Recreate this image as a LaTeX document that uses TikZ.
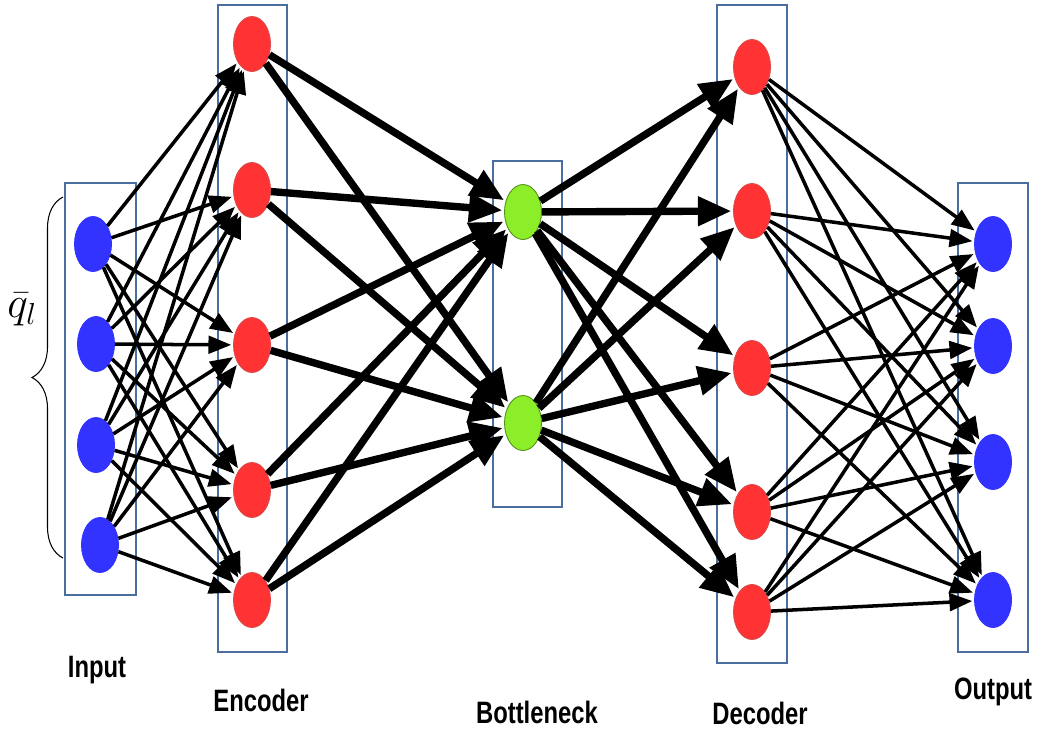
\documentclass[tikz,border=0pt]{standalone}
\usepackage{fontspec}
\newfontfamily\labfont[FakeStretch=0.77]{Liberation Sans}
\usetikzlibrary{arrows.meta,decorations.pathreplacing,shapes.geometric}
\definecolor{nblue}{RGB}{51,51,255}
\definecolor{nred}{RGB}{255,51,51}
\definecolor{ngreen}{RGB}{140,238,40}
\definecolor{boxblue}{RGB}{74,110,160}
\begin{document}
\begin{tikzpicture}[x=0.02cm,y=-0.02cm,
  neuron/.style={ellipse, minimum width=0.74cm, minimum height=1.1cm, inner sep=0pt, line width=0.5pt},
  inneuron/.style={neuron, fill=nblue, draw=nblue},
  encneuron/.style={neuron, fill=nred, draw=nred!70!gray},
  botneuron/.style={neuron, fill=ngreen, draw=ngreen!60!black},
  layerbox/.style={draw=boxblue, line width=1.6pt},
  thinarrow/.style={-{Triangle[length=13pt,width=10pt]}, line width=2pt, shorten >=1pt},
  thickarrow/.style={-{Triangle[length=19pt,width=16pt]}, line width=4.2pt, shorten >=1pt},
  lab/.style={font=\labfont\bfseries\fontsize{17.6pt}{20pt}\selectfont}
]
\useasboundingbox (0,0) rectangle (1040,731);
% layer boxes
\draw[layerbox] (65,183) rectangle (136,595);
\draw[layerbox] (218,5) rectangle (287,652);
\draw[layerbox] (493,161) rectangle (562,507);
\draw[layerbox] (717,5) rectangle (787,663);
\draw[layerbox] (958,183) rectangle (1028,652);
% input
\node[inneuron] (I1) at (93,244) {};
\node[inneuron] (I2) at (96,344) {};
\node[inneuron] (I3) at (96,445) {};
\node[inneuron] (I4) at (100,545) {};
% encoder
\node[encneuron] (E1) at (252,44) {};
\node[encneuron] (E2) at (252,190) {};
\node[encneuron] (E3) at (252,345) {};
\node[encneuron] (E4) at (252,490) {};
\node[encneuron] (E5) at (252,600) {};
% bottleneck
\node[botneuron] (B1) at (523,212) {};
\node[botneuron] (B2) at (523,423) {};
% decoder
\node[encneuron] (D1) at (752,67) {};
\node[encneuron] (D2) at (752,211) {};
\node[encneuron] (D3) at (752,368) {};
\node[encneuron] (D4) at (752,512) {};
\node[encneuron] (D5) at (752,612) {};
% output
\node[inneuron] (O1) at (993,244) {};
\node[inneuron] (O2) at (993,346) {};
\node[inneuron] (O3) at (993,462) {};
\node[inneuron] (O4) at (993,600) {};
% connections
\foreach \i in {1,...,4}
  \foreach \j in {1,...,5}
    \draw[thinarrow] (I\i) -- (E\j);
\foreach \i in {1,...,5}
  \foreach \j in {1,2}
    \draw[thickarrow] (E\i) -- (B\j);
\foreach \i in {1,2}
  \foreach \j in {1,...,5}
    \draw[thickarrow] (B\i) -- (D\j);
\foreach \i in {1,...,5}
  \foreach \j in {1,...,4}
    \draw[thinarrow] (D\i) -- (O\j);
% brace and label
\draw[decorate, decoration={brace, amplitude=0.62cm}, line width=0.6pt] (63,558) -- (63,197);
\node[inner sep=0pt] (ql) at (22,310) {\fontsize{25pt}{30pt}\selectfont $\bar{q}_l$};
% layer labels
\node[lab] (lin) at (97,670) {Input};
\node[lab] (lenc) at (261,700) {Encoder};
\node[lab] (lbot) at (537,712) {Bottleneck};
\node[lab] (ldec) at (760,713) {Decoder};
\node[lab] (lout) at (993,692) {Output};
\end{tikzpicture}
\end{document}
